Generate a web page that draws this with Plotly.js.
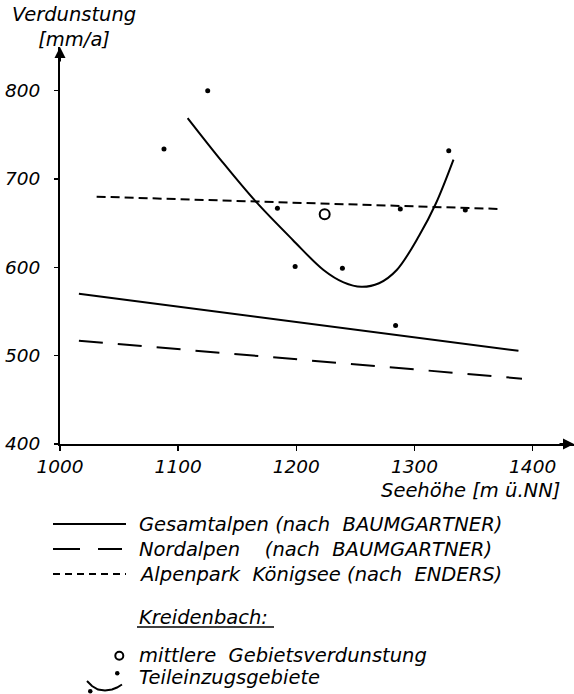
<!DOCTYPE html>
<html>
<head>
<meta charset="utf-8">
<script src="https://cdn.plot.ly/plotly-3.0.1.min.js"></script>
<style>html,body{margin:0;padding:0;background:#fff;}</style>
</head>
<body>
<div id="chart" style="width:574px;height:694px;"></div>
<script>
// ---- data ----
var xTicks = [1000, 1100, 1200, 1300, 1400];
var yTicks = [400, 500, 600, 700, 800];

// Gesamtalpen (nach BAUMGARTNER) - straight line
var gesamtX = [1016, 1388];
var gesamtY = [570, 505.5];
// Nordalpen (nach BAUMGARTNER)
var nordX = [1016, 1391];
var nordY = [517, 474];
// Alpenpark Königsee (nach ENDERS)
var alpenX = [1031, 1374];
var alpenY = [680, 666];
// Kreidenbach: Teileinzugsgebiete (points) and fitted curve
var teilX = [1088, 1125, 1184, 1199, 1239, 1284, 1288, 1329, 1343];
var teilY = [734, 800, 667, 601, 599, 534, 666, 732, 665];
var curveX = [1108, 1137, 1166, 1197, 1223, 1240, 1255, 1270, 1285, 1304, 1318, 1333];
var curveY = [769, 720, 674, 631, 597, 583, 578, 582, 597, 636, 672, 722];
// mittlere Gebietsverdunstung
var mittelX = [1224];
var mittelY = [660];

var legendLabels = [
  'Gesamtalpen (nach\u00a0 BAUMGARTNER)',
  'Nordalpen\u00a0\u00a0\u00a0 (nach\u00a0 BAUMGARTNER)',
  'Alpenpark\u00a0 Königsee (nach\u00a0 ENDERS)'
];
var groupTitle = 'Kreidenbach:';
var pointLabels = ['mittlere\u00a0 Gebietsverdunstung', 'Teileinzugsgebiete'];

// ---- layout geometry ----
var W = 574, H = 694;
var M = {l: 60, r: 0, t: 47, b: 250};
var PW = W - M.l - M.r, PH = H - M.t - M.b;
function px(x) { return (x - M.l) / PW; }
function py(y) { return (H - M.b - y) / PH; }

var FONT = 'DejaVu Sans';
var txt = {family: FONT, size: 19.5, color: '#000', style: 'italic'};
var tickTxt = {family: FONT, size: 18.5, color: '#000', style: 'italic'};

var traces = [
  {x: gesamtX, y: gesamtY, mode: 'lines', line: {color: '#000', width: 2}, name: legendLabels[0]},
  {x: nordX, y: nordY, mode: 'lines', line: {color: '#000', width: 2, dash: '24px,15px'}, name: legendLabels[1]},
  {x: alpenX, y: alpenY, mode: 'lines', line: {color: '#000', width: 2, dash: '9px,5px'}, name: legendLabels[2]},
  {x: curveX, y: curveY, mode: 'lines', line: {color: '#000', width: 2, shape: 'spline', smoothing: 1}, name: 'curve'},
  {x: teilX, y: teilY, mode: 'markers', marker: {color: '#000', size: 5}, name: pointLabels[1]},
  {x: mittelX, y: mittelY, mode: 'markers', marker: {symbol: 'circle-open', color: '#000', size: 10, line: {width: 2, color: '#000'}}, name: pointLabels[0]}
];

// small smile-shaped symbol path (pixel points -> paper)
var symPts = [[87, 681], [92, 686], [98, 689.5], [105, 690.5], [112, 689.5], [117, 687.5], [122, 684.5]];
var symPath = symPts.map(function (p, i) { return (i ? 'L ' : 'M ') + px(p[0]) + ' ' + py(p[1]); }).join(' ');

var shapes = [
  // legend samples
  {type: 'line', xref: 'paper', yref: 'paper', x0: px(53), x1: px(126), y0: py(524), y1: py(524), line: {color: '#000', width: 2}},
  {type: 'line', xref: 'paper', yref: 'paper', x0: px(53), x1: px(80), y0: py(549), y1: py(549), line: {color: '#000', width: 2}},
  {type: 'line', xref: 'paper', yref: 'paper', x0: px(98), x1: px(122), y0: py(549), y1: py(549), line: {color: '#000', width: 2}},
  {type: 'line', xref: 'paper', yref: 'paper', x0: px(53), x1: px(126), y0: py(574), y1: py(574), line: {color: '#000', width: 2, dash: '7px,5px'}},
  // underline of group title
  {type: 'line', xref: 'paper', yref: 'paper', x0: px(137), x1: px(274), y0: py(627), y1: py(627), line: {color: '#000', width: 1.5}},
  // open circle symbol
  {type: 'circle', xref: 'paper', yref: 'paper', x0: px(115.3), x1: px(123.3), y0: py(651.7), y1: py(659.7), line: {color: '#000', width: 2}},
  // Teileinzugsgebiete symbol: curve + dots
  {type: 'path', xref: 'paper', yref: 'paper', path: symPath, line: {color: '#000', width: 2}},
  {type: 'circle', xref: 'paper', yref: 'paper', x0: px(88), x1: px(92.5), y0: py(689), y1: py(693.5), fillcolor: '#000', line: {color: '#000', width: 0}},
  {type: 'circle', xref: 'paper', yref: 'paper', x0: px(115), x1: px(119.5), y0: py(671), y1: py(675.5), fillcolor: '#000', line: {color: '#000', width: 0}}
];

function label(text, x, y, xanchor) {
  return {text: text, xref: 'paper', yref: 'paper', x: px(x), y: py(y), xanchor: xanchor || 'left', yanchor: 'middle', showarrow: false, font: txt};
}

var annotations = [
  // axis arrowheads
  {xref: 'x', yref: 'y', x: 1435, y: 400, ax: -16, ay: 0, text: '', showarrow: true, arrowhead: 2, arrowsize: 1.1, arrowwidth: 2, arrowcolor: '#000'},
  {xref: 'x', yref: 'y', x: 1000, y: 849.4, ax: 0, ay: 16, text: '', showarrow: true, arrowhead: 2, arrowsize: 1.1, arrowwidth: 2, arrowcolor: '#000'},
  // axis titles
  {text: 'Verdunstung<br>[mm/a]', xref: 'paper', yref: 'paper', x: px(74), y: py(27), xanchor: 'center', yanchor: 'middle', align: 'center', showarrow: false, font: txt},
  label('Seehöhe [m ü.NN]', 562, 490, 'right'),
  // legend texts
  label(legendLabels[0], 137, 524),
  label(legendLabels[1], 137, 549),
  label(legendLabels[2], 137, 574),
  label(groupTitle, 137, 617),
  label(pointLabels[0], 137, 655),
  label(pointLabels[1], 137, 677)
];

var layout = {
  width: W, height: H,
  margin: M,
  paper_bgcolor: '#fff', plot_bgcolor: '#fff',
  showlegend: false,
  font: txt,
  xaxis: {
    range: [1000, 1435], tickvals: xTicks, ticktext: xTicks.map(String),
    showgrid: false, zeroline: false, showline: true, linecolor: '#000', linewidth: 2,
    ticks: 'outside', ticklen: 5, tickwidth: 1.5, tickcolor: '#000',
    tickfont: tickTxt, fixedrange: true
  },
  yaxis: {
    range: [400, 849.4], tickvals: yTicks, ticktext: yTicks.map(String),
    showgrid: false, zeroline: false, showline: true, linecolor: '#000', linewidth: 2,
    ticks: 'outside', ticklen: 4, tickwidth: 1.5, tickcolor: '#000',
    tickfont: tickTxt, ticklabelstandoff: 10, fixedrange: true
  },
  shapes: shapes,
  annotations: annotations
};

Plotly.newPlot('chart', traces, layout, {displayModeBar: false, staticPlot: true});
</script>
</body>
</html>
